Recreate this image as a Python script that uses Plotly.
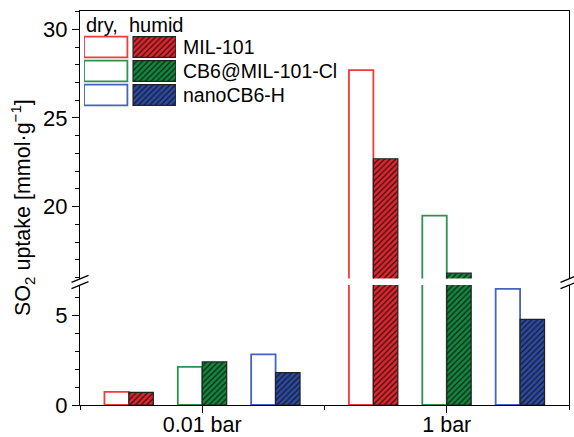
import plotly.graph_objects as go

# ---------------- data ----------------
categories = ["0.01 bar", "1 bar"]
series_names = ["MIL-101", "CB6@MIL-101-Cl", "nanoCB6-H"]
mil_dry = [0.74, 27.7]
mil_humid = [0.71, 22.7]
cb6_dry = [2.13, 19.5]
cb6_humid = [2.41, 16.25]
nano_dry = [2.84, 6.5]
nano_humid = [1.81, 4.8]
lower_ticks = [0, 5]
upper_ticks = [20, 25, 30]

# ---------------- styles ----------------
W, H = 574, 437
L, R, T, B = 80, 5, 11, 32
PX0, PX1, PY0, PY1 = L, W - R, T, H - B   # plot area in pixels
FONT = "Arial, Liberation Sans, sans-serif"

dry_line = ["#f23a3a", "#2f9150", "#4563bf"]
humid_fill = ["#e8222a", "#0f8a3c", "#2a4aa8"]

def paper_x(px):
    return (px - PX0) / (PX1 - PX0)

def paper_y(py):
    return (PY1 - py) / (PY1 - PY0)

lower_dom = [0, paper_y(285)]
upper_dom = [paper_y(278.5), 1]
lower_range = [0, 6.72]
upper_range = [15.95, 31.03]

fig = go.Figure()

pairs = [(mil_dry, mil_humid), (cb6_dry, cb6_humid), (nano_dry, nano_humid)]
group_offsets = [-0.3, 0.0, 0.3]
bw = 0.1
xs = list(range(len(categories)))

for (xa, ya) in [("x", "y"), ("x2", "y2")]:
    for i, (dry, humid) in enumerate(pairs):
        off = group_offsets[i]
        fig.add_trace(go.Bar(
            x=[v + off - bw / 2 for v in xs], y=dry, width=bw,
            marker=dict(color="white", line=dict(color=dry_line[i], width=1.8)),
            xaxis=xa, yaxis=ya, showlegend=False, hoverinfo="skip"))
        fig.add_trace(go.Bar(
            x=[v + off + bw / 2 for v in xs], y=humid, width=bw,
            marker=dict(color=humid_fill[i],
                        line=dict(color="#222222", width=1.2),
                        pattern=dict(shape="/", fgcolor="#1a1a1a", bgcolor=humid_fill[i],
                                     size=4, solidity=0.3, fillmode="replace")),
            xaxis=xa, yaxis=ya, showlegend=False, hoverinfo="skip"))

# ---------------- custom legend (hidden subplot) ----------------
LEG_TOP, ROW_H = 35, 24
for i, name in enumerate(series_names):
    fig.add_trace(go.Bar(
        y=[i], x=[1], base=[0], orientation="h", width=0.86,
        marker=dict(color="white", line=dict(color=dry_line[i], width=1.8)),
        xaxis="x3", yaxis="y3", showlegend=False, hoverinfo="skip"))
    fig.add_trace(go.Bar(
        y=[i], x=[0.99], base=[1.13], orientation="h", width=0.86,
        marker=dict(color=humid_fill[i], line=dict(color="#222222", width=1.2),
                    pattern=dict(shape="/", fgcolor="#1a1a1a", bgcolor=humid_fill[i],
                                 size=4, solidity=0.3, fillmode="replace")),
        xaxis="x3", yaxis="y3", showlegend=False, hoverinfo="skip"))

annotations = []
for i, name in enumerate(series_names):
    annotations.append(dict(xref="paper", yref="paper", x=paper_x(181),
                            y=paper_y(LEG_TOP + (i + 0.5) * ROW_H), text=name,
                            showarrow=False, xanchor="left", yanchor="middle",
                            font=dict(family=FONT, size=19.5, color="black")))
annotations.append(dict(xref="paper", yref="paper", x=paper_x(84), y=paper_y(25),
                        text="dry,\u00a0 humid", showarrow=False,
                        xanchor="left", yanchor="middle",
                        font=dict(family=FONT, size=20, color="black")))
annotations.append(dict(xref="paper", yref="paper", x=paper_x(22), y=paper_y(208),
                        text="SO<sub>2</sub> uptake [mmol·g<sup>−1</sup>]",
                        textangle=-90, showarrow=False,
                        xanchor="center", yanchor="middle",
                        font=dict(family=FONT, size=21.5, color="black")))

# ---------------- axis break marks ----------------
shapes = []
for cx in [PX0, PX1]:
    for dy in [-3.2, 3.2]:
        shapes.append(dict(type="line", xref="paper", yref="paper",
                           x0=paper_x(cx - 8.5), y0=paper_y(282 + dy + 3.5),
                           x1=paper_x(cx + 8.5), y1=paper_y(282 + dy - 3.5),
                           line=dict(color="black", width=1.3)))

axis_common = dict(showline=True, linecolor="black", linewidth=1.3,
                   ticks="outside", ticklen=7, tickwidth=1.3, tickcolor="black",
                   showgrid=False, zeroline=False, automargin=False,
                   tickfont=dict(family=FONT, size=22, color="black"))

fig.update_layout(
    template="none",
    width=W, height=H,
    margin=dict(l=L, r=R, t=T, b=B, pad=0, autoexpand=False),
    paper_bgcolor="white", plot_bgcolor="white",
    barmode="overlay", showlegend=False,
    xaxis=dict(**{**axis_common, "tickfont": dict(family=FONT, size=21.5, color="black")},
               anchor="y", domain=[0, 1], range=[-0.5, 1.5],
               tickmode="array", tickvals=xs, ticktext=categories,
               ticklabelstandoff=-7,
               minor=dict(tickmode="array", tickvals=[-0.5, 0.5, 1.5], ticks="outside",
                          ticklen=4, tickwidth=1.3, tickcolor="black")),
    xaxis2=dict(showline=True, linecolor="black", linewidth=1.3, anchor="y2",
                side="top", domain=[0, 1], range=[-0.5, 1.5], showticklabels=False,
                ticks="", showgrid=False, zeroline=False, automargin=False),
    yaxis=dict(**axis_common, anchor="x", domain=lower_dom, range=lower_range,
               mirror=True, tickmode="array", tickvals=lower_ticks,
               minor=dict(dtick=1, tick0=0, ticks="outside", ticklen=4, tickwidth=1.3,
                          tickcolor="black")),
    yaxis2=dict(**axis_common, anchor="x2", domain=upper_dom, range=upper_range,
                mirror=True, tickmode="array", tickvals=upper_ticks,
                minor=dict(dtick=1, tick0=0, ticks="outside", ticklen=4, tickwidth=1.3,
                           tickcolor="black")),
    xaxis3=dict(domain=[paper_x(84), paper_x(176)], range=[0, 2.12], anchor="y3",
                visible=False, fixedrange=True, automargin=False),
    yaxis3=dict(domain=[paper_y(LEG_TOP + 3 * ROW_H), paper_y(LEG_TOP)], anchor="x3",
                visible=False, range=[2.5, -0.5], fixedrange=True, automargin=False),
    annotations=annotations,
    shapes=shapes,
)

fig.write_html("out.html")
